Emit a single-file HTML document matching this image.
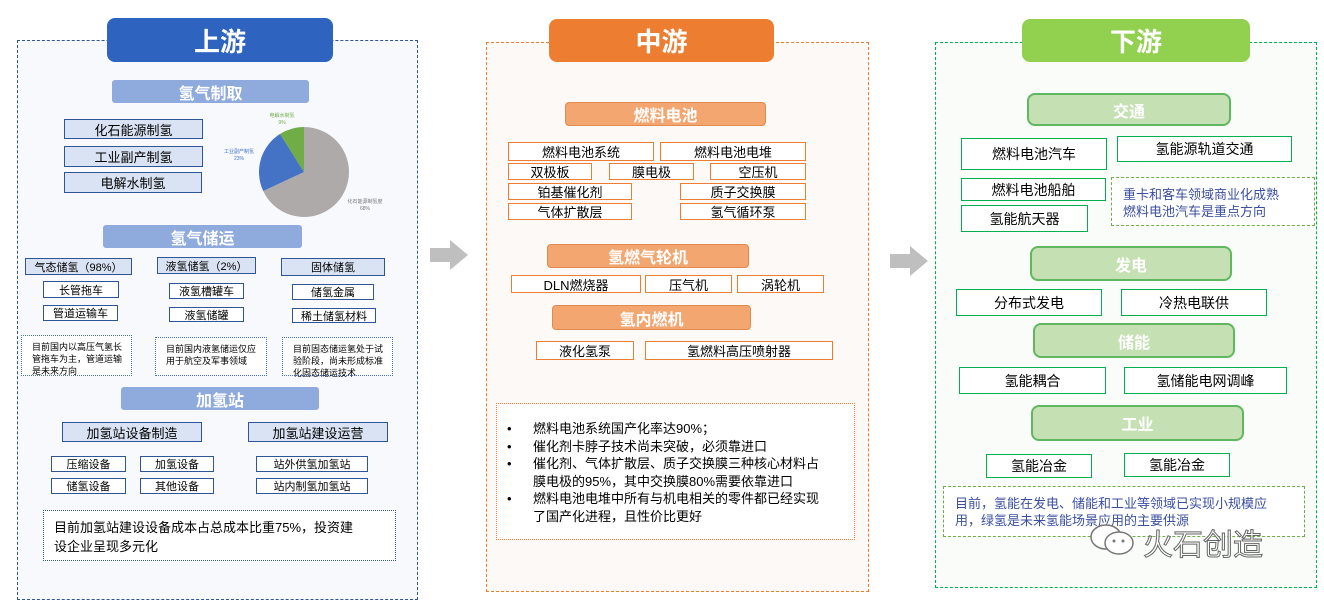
<!DOCTYPE html>
<html><head><meta charset="utf-8"><style>
body{margin:0;width:1324px;height:597px;position:relative;overflow:hidden;background:#fff;font-family:"Liberation Sans","Noto Sans CJK SC",sans-serif;}
div{position:absolute;box-sizing:border-box;}
.c{display:flex;align-items:center;justify-content:center;text-align:center;white-space:nowrap;color:#000;}
.hd{border-radius:8px;color:#fff;font-size:26px;font-weight:bold;}
.bb{background:#dae3f3;border:1.5px solid #2f5597;font-size:13px;}
.bw{background:#fff;border:1.5px solid #2f5597;font-size:11px;}
.bar1{background:#8faadc;color:#fff;font-size:16px;font-weight:bold;border-radius:3px;}
.nt1{border:1.5px dotted #4472c4;font-size:9px;line-height:12px;padding:5px 2px 0 10px;background:#fff;white-space:nowrap;}
.ob{background:#fff;border:1.5px solid #ed7d31;font-size:13px;}
.bar2{background:#f4a671;border:1px solid #e08a4f;color:#fff;font-size:16px;font-weight:bold;border-radius:4px;}
.gb{background:#fff;border:1.5px solid #00b050;font-size:14px;}
.bar3{background:#c5e0b3;border:2px solid #5fb85f;color:#fff;font-size:16px;font-weight:bold;border-radius:8px;}
.li{position:relative;display:flex;white-space:nowrap}
.li span:first-child{width:26px;flex:none}
</style></head><body>
<!-- panels -->
<div style="left:17px;top:40px;width:401px;height:560px;border:1.5px dashed #2f5597;background:#f7f9fd"></div>
<div style="left:486px;top:42px;width:383px;height:550px;border:1.5px dashed #ed7d31;background:#fdf9f6"></div>
<div style="left:935px;top:42px;width:382px;height:546px;border:1.5px dashed #00b050;background:#f9fcf8"></div>
<div class="c hd" style="left:107px;top:18px;width:226px;height:44px;background:#2f63c0">上游</div>
<div class="c hd" style="left:549px;top:19px;width:225px;height:43px;background:#ed7d31">中游</div>
<div class="c hd" style="left:1022px;top:19px;width:228px;height:43px;background:#92d050">下游</div>
<!-- arrows -->
<svg style="position:absolute;left:428px;top:238px" width="42" height="34"><polygon points="2,10 22,10 22,2 40,17 22,32 22,24 2,24" fill="#bfbfbf"/></svg>
<svg style="position:absolute;left:888px;top:244px" width="42" height="34"><polygon points="2,10 22,10 22,2 40,17 22,32 22,24 2,24" fill="#bfbfbf"/></svg>

<!-- upstream -->
<div class="c bar1" style="left:112px;top:80px;width:197px;height:23px">氢气制取</div>
<div class="c bb" style="left:64px;top:119px;width:139px;height:20px">化石能源制氢</div>
<div class="c bb" style="left:64px;top:146px;width:139px;height:21px">工业副产制氢</div>
<div class="c bb" style="left:64px;top:172px;width:138px;height:21px">电解水制氢</div>
<svg style="position:absolute;left:200px;top:100px" width="220" height="120">
<g transform="translate(104,72)">
<path d="M0,0 L0,-45 A45,45 0 1 1 -40.8,19.0 Z" fill="#aeaaaa"/>
<path d="M0,0 L-40.8,19.0 A45,45 0 0 1 -23.9,-38.1 Z" fill="#4472c4"/>
<path d="M0,0 L-23.9,-38.1 A45,45 0 0 1 0,-45 Z" fill="#70ad47"/>
</g>
<text x="82" y="17" font-size="5" fill="#70ad47" text-anchor="middle">电解水制氢</text><text x="82" y="24" font-size="5" fill="#70ad47" text-anchor="middle">9%</text>
<text x="39" y="53" font-size="5" fill="#4472c4" text-anchor="middle">工业副产制氢</text><text x="39" y="60" font-size="5" fill="#4472c4" text-anchor="middle">23%</text>
<text x="165" y="103" font-size="5" fill="#777" text-anchor="middle">化石能源制氢度</text><text x="165" y="110" font-size="5" fill="#777" text-anchor="middle">68%</text>
</svg>
<div class="c bar1" style="left:103px;top:225px;width:199px;height:23px">氢气储运</div>
<div class="c bb" style="left:25px;top:258px;width:107px;height:17px;font-size:11px">气态储氢（98%）</div>
<div class="c bb" style="left:157px;top:257px;width:99px;height:17px;font-size:11px">液氢储氢（2%）</div>
<div class="c bb" style="left:281px;top:258px;width:104px;height:18px;font-size:11px">固体储氢</div>
<div class="c bw" style="left:43px;top:281px;width:76px;height:17px">长管拖车</div>
<div class="c bw" style="left:43px;top:305px;width:75px;height:16px">管道运输车</div>
<div class="c bw" style="left:169px;top:283px;width:75px;height:16px">液氢槽罐车</div>
<div class="c bw" style="left:169px;top:307px;width:75px;height:15px">液氢储罐</div>
<div class="c bw" style="left:292px;top:284px;width:82px;height:16px">储氢金属</div>
<div class="c bw" style="left:292px;top:308px;width:84px;height:15px">稀土储氢材料</div>
<div class="nt1" style="left:21px;top:335px;width:111px;height:41px">目前国内以高压气氢长<br>管拖车为主，管道运输<br>是未来方向</div>
<div class="nt1" style="left:155px;top:337px;width:112px;height:39px">目前国内液氢储运仅应<br>用于航空及军事领域</div>
<div class="nt1" style="left:282px;top:337px;width:111px;height:39px">目前固态储运氢处于试<br>验阶段，尚未形成标准<br>化固态储运技术</div>
<div class="c bar1" style="left:121px;top:387px;width:198px;height:23px">加氢站</div>
<div class="c bb" style="left:62px;top:422px;width:140px;height:20px">加氢站设备制造</div>
<div class="c bb" style="left:248px;top:422px;width:140px;height:20px">加氢站建设运营</div>
<div class="c bw" style="left:51px;top:456px;width:75px;height:16px">压缩设备</div>
<div class="c bw" style="left:140px;top:456px;width:74px;height:16px">加氢设备</div>
<div class="c bw" style="left:51px;top:478px;width:75px;height:16px">储氢设备</div>
<div class="c bw" style="left:140px;top:478px;width:74px;height:16px">其他设备</div>
<div class="c bw" style="left:256px;top:456px;width:112px;height:16px">站外供氢加氢站</div>
<div class="c bw" style="left:256px;top:478px;width:112px;height:16px">站内制氢加氢站</div>
<div style="left:43px;top:510px;width:353px;height:51px;border:1.5px dotted #2f5597;font-size:13px;line-height:19px;padding:7px 8px 0 10px;background:#fff;white-space:nowrap">目前加氢站建设设备成本占总成本比重75%，投资建<br>设企业呈现多元化</div>

<!-- midstream -->
<div class="c bar2" style="left:565px;top:102px;width:201px;height:24px">燃料电池</div>
<div class="c ob" style="left:508px;top:142px;width:146px;height:19px">燃料电池系统</div>
<div class="c ob" style="left:660px;top:142px;width:146px;height:19px">燃料电池电堆</div>
<div class="c ob" style="left:508px;top:163px;width:84px;height:17px">双极板</div>
<div class="c ob" style="left:609px;top:163px;width:85px;height:17px">膜电极</div>
<div class="c ob" style="left:710px;top:163px;width:96px;height:17px">空压机</div>
<div class="c ob" style="left:508px;top:183px;width:124px;height:17px">铂基催化剂</div>
<div class="c ob" style="left:680px;top:183px;width:126px;height:17px">质子交换膜</div>
<div class="c ob" style="left:508px;top:203px;width:124px;height:17px">气体扩散层</div>
<div class="c ob" style="left:680px;top:203px;width:126px;height:17px">氢气循环泵</div>
<div class="c bar2" style="left:547px;top:244px;width:202px;height:24px">氢燃气轮机</div>
<div class="c ob" style="left:511px;top:275px;width:130px;height:18px">DLN燃烧器</div>
<div class="c ob" style="left:645px;top:275px;width:87px;height:18px">压气机</div>
<div class="c ob" style="left:737px;top:275px;width:87px;height:18px">涡轮机</div>
<div class="c bar2" style="left:552px;top:305px;width:199px;height:25px">氢内燃机</div>
<div class="c ob" style="left:536px;top:341px;width:98px;height:19px">液化氢泵</div>
<div class="c ob" style="left:645px;top:341px;width:188px;height:19px">氢燃料高压喷射器</div>
<div style="left:496px;top:403px;width:359px;height:137px;border:1.5px dotted #ed7d31;font-size:13px;line-height:17.5px;padding:16px 4px 0 10px;background:#fff">
<div class="li"><span>•</span><span>燃料电池系统国产化率达90%；</span></div>
<div class="li"><span>•</span><span>催化剂卡脖子技术尚未突破，必须靠进口</span></div>
<div class="li"><span>•</span><span>催化剂、气体扩散层、质子交换膜三种核心材料占<br>膜电极的95%，其中交换膜80%需要依靠进口</span></div>
<div class="li"><span>•</span><span>燃料电池电堆中所有与机电相关的零件都已经实现<br>了国产化进程，且性价比更好</span></div>
</div>

<!-- downstream -->
<div class="c bar3" style="left:1027px;top:93px;width:204px;height:33px">交通</div>
<div class="c gb" style="left:961px;top:138px;width:146px;height:32px">燃料电池汽车</div>
<div class="c gb" style="left:1117px;top:136px;width:175px;height:26px">氢能源轨道交通</div>
<div class="c gb" style="left:961px;top:178px;width:145px;height:23px">燃料电池船舶</div>
<div class="c gb" style="left:961px;top:205px;width:127px;height:27px">氢能航天器</div>
<div style="left:1111px;top:177px;width:204px;height:49px;border:1.5px dashed #70ad47;font-size:13px;line-height:17px;padding:8px 0 0 11px;color:#3b4fa0;white-space:nowrap;background:#fff">重卡和客车领域商业化成熟<br>燃料电池汽车是重点方向</div>
<div class="c bar3" style="left:1030px;top:246px;width:202px;height:35px">发电</div>
<div class="c gb" style="left:956px;top:289px;width:146px;height:27px">分布式发电</div>
<div class="c gb" style="left:1121px;top:289px;width:146px;height:27px">冷热电联供</div>
<div class="c bar3" style="left:1033px;top:323px;width:202px;height:35px">储能</div>
<div class="c gb" style="left:959px;top:367px;width:147px;height:27px">氢能耦合</div>
<div class="c gb" style="left:1124px;top:367px;width:163px;height:27px">氢储能电网调峰</div>
<div class="c bar3" style="left:1031px;top:405px;width:213px;height:36px">工业</div>
<div class="c gb" style="left:986px;top:454px;width:106px;height:24px">氢能冶金</div>
<div class="c gb" style="left:1124px;top:453px;width:106px;height:24px">氢能冶金</div>
<div style="left:943px;top:486px;width:362px;height:51px;border:1.5px dashed #70ad47;font-size:13px;line-height:17px;padding:8px 0 0 11px;color:#3b4fa0;white-space:nowrap;background:#fff">目前，氢能在发电、储能和工业等领域已实现小规模应<br>用，绿氢是未来氢能场景应用的主要供源</div>
<!-- watermark -->
<svg style="position:absolute;left:1088px;top:522px" width="50" height="36"><ellipse cx="18" cy="15" rx="15" ry="12" fill="#fff" stroke="#777" stroke-width="1.5"/><ellipse cx="31" cy="21" rx="14" ry="11" fill="#fff" stroke="#777" stroke-width="1.5"/><circle cx="26" cy="19" r="1.5" fill="#777"/><circle cx="35" cy="19" r="1.5" fill="#777"/></svg>
<div style="left:1143px;top:520px;font-size:30px;color:#fff;-webkit-text-stroke:1px #666;white-space:nowrap;font-weight:normal">火石创造</div>
</body></html>
